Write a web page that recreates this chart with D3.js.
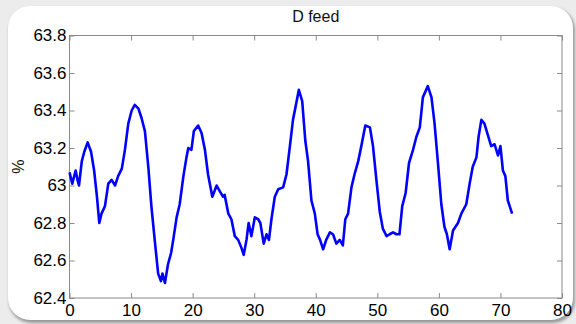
<!DOCTYPE html>
<html>
<head>
<meta charset="utf-8">
<script src="https://cdn.jsdelivr.net/npm/d3@7"></script>
<style>
  html, body { margin: 0; padding: 0; background: #ececec; }
  svg { display: block; }
</style>
</head>
<body>
<script>
/* D FEED */

// Chart data
const title = 'D feed';
const yLabel = '%';
const xTicks = [0, 10, 20, 30, 40, 50, 60, 70, 80];
const yTicks = [62.4, 62.6, 62.8, 63, 63.2, 63.4, 63.6, 63.8];

const time = [
  0.0, 0.45, 1.0, 1.3, 1.54, 2.0, 2.4, 2.95, 3.5, 4.0, 4.46, 4.84, 5.2, 5.76,
  6.3, 6.85, 7.4, 7.9, 8.5, 9.0, 9.55, 10.1, 10.6, 11.2, 11.7, 12.25, 12.8,
  13.3, 13.9, 14.4, 14.85, 15.1, 15.5, 16.0, 16.5, 16.85, 17.4, 17.9, 18.5,
  19.0, 19.3, 19.8, 20.2, 20.9, 21.45, 22.0, 22.5, 23.2, 23.9, 24.4, 24.95,
  25.2, 25.8, 26.3, 26.85, 27.4, 27.9, 28.3, 28.75, 29.1, 29.55, 30.1, 30.65,
  31.0, 31.55, 32.0, 32.4, 32.8, 33.35, 33.9, 34.7, 35.25, 35.8, 36.3, 36.9,
  37.25, 37.8, 38.3, 38.75, 39.3, 39.85, 40.3, 40.7, 41.2, 41.7, 42.3, 42.8,
  43.35, 43.9, 44.4, 44.8, 45.25, 45.8, 46.3, 46.9, 47.4, 48.05, 48.8, 49.3,
  49.85, 50.4, 50.9, 51.5, 52.0, 52.55, 53.1, 53.6, 54.05, 54.6, 55.15, 55.8,
  56.35, 56.9, 57.4, 58.2, 58.8, 59.3, 59.85, 60.4, 60.9, 61.3, 61.75, 62.3,
  63.1, 63.65, 64.45, 65.0, 65.5, 66.1, 66.45, 66.9, 67.4, 67.95, 68.5, 69.05,
  69.6, 70.0, 70.4, 70.8, 71.2, 71.5, 71.9
];

const feed = [
  63.07, 63.01, 63.08, 63.03, 63.0, 63.13, 63.18, 63.23, 63.18, 63.08, 62.94,
  62.8, 62.85, 62.89, 63.01, 63.03, 63.0, 63.05, 63.09, 63.19, 63.33, 63.4,
  63.43, 63.41, 63.36, 63.29, 63.1, 62.89, 62.69, 62.53, 62.49, 62.53, 62.48,
  62.58, 62.64, 62.71, 62.83, 62.9, 63.05, 63.15, 63.2, 63.19, 63.29, 63.32,
  63.28, 63.19, 63.06, 62.94, 63.0, 62.97, 62.94, 62.95, 62.85, 62.82, 62.73,
  62.71, 62.67, 62.63, 62.71, 62.8, 62.73, 62.83, 62.82, 62.8, 62.69, 62.74,
  62.71, 62.82, 62.94, 62.98, 62.99, 63.06, 63.21, 63.35, 63.45, 63.51, 63.45,
  63.24, 63.13, 62.92, 62.85, 62.74, 62.71, 62.66, 62.71, 62.75, 62.74, 62.69,
  62.71, 62.68, 62.82, 62.85, 62.99, 63.06, 63.13, 63.21, 63.32, 63.31, 63.21,
  63.03, 62.86, 62.77, 62.73, 62.74, 62.75, 62.74, 62.74, 62.89, 62.96, 63.12,
  63.19, 63.26, 63.31, 63.47, 63.53, 63.47, 63.33, 63.12, 62.9, 62.78, 62.74,
  62.66, 62.76, 62.8, 62.85, 62.9, 63.01, 63.1, 63.15, 63.26, 63.35, 63.33,
  63.27, 63.21, 63.22, 63.16, 63.21, 63.08, 63.05, 62.92, 62.89, 62.85
];

// Adding svg
const width = 576;
const height = 324;
const svg = d3
  .select('body')
  .append('svg')
  .attr('width', width)
  .attr('height', height);

// Card background with soft shadow
const defs = svg.append('defs');
defs
  .append('filter')
  .attr('id', 'shadow')
  .attr('x', '-5%')
  .attr('y', '-5%')
  .attr('width', '110%')
  .attr('height', '110%')
  .append('feGaussianBlur')
  .attr('stdDeviation', 1.5);

svg
  .append('rect')
  .attr('x', 9)
  .attr('y', 8)
  .attr('width', 566)
  .attr('height', 315)
  .attr('rx', 22)
  .attr('fill', '#9a9a9a')
  .attr('filter', 'url(#shadow)');

svg
  .append('rect')
  .attr('x', 8)
  .attr('y', 6)
  .attr('width', 565)
  .attr('height', 314)
  .attr('rx', 22)
  .attr('fill', '#ffffff');

// Plot area
const plot = { left: 69.5, right: 562, top: 35.5, bottom: 298 };

const x = d3.scaleLinear().domain([0, 80]).range([plot.left, plot.right]);
const y = d3.scaleLinear().domain([62.4, 63.8]).range([plot.bottom, plot.top]);

const axisColor = '#8a8a8a';
const fontFamily = '"Liberation Sans", Arial, sans-serif';

// Axes with inward ticks (bottom / left carry labels)
const xAxis = svg
  .append('g')
  .attr('transform', `translate(0,${plot.bottom})`)
  .call(
    d3.axisBottom(x).tickValues(xTicks).tickSizeInner(-5).tickSizeOuter(0).tickPadding(6)
  );

const yAxis = svg
  .append('g')
  .attr('transform', `translate(${plot.left},0)`)
  .call(
    d3
      .axisLeft(y)
      .tickValues(yTicks)
      .tickFormat((d) => String(d))
      .tickSizeInner(-5)
      .tickSizeOuter(0)
      .tickPadding(3)
  );

// Top / right ticks without labels
const xAxisTop = svg
  .append('g')
  .attr('transform', `translate(0,${plot.top})`)
  .call(d3.axisTop(x).tickValues(xTicks).tickSizeInner(-5).tickSizeOuter(0).tickFormat(''));

const yAxisRight = svg
  .append('g')
  .attr('transform', `translate(${plot.right},0)`)
  .call(d3.axisRight(y).tickValues(yTicks).tickSizeInner(-5).tickSizeOuter(0).tickFormat(''));

[xAxis, yAxis, xAxisTop, yAxisRight].forEach((g) => {
  g.select('.domain').remove();
  g.selectAll('line').attr('stroke', axisColor);
  g.selectAll('text')
    .attr('fill', '#000')
    .style('font-family', fontFamily)
    .style('font-size', '17px');
});

// Box round the plot
svg
  .append('rect')
  .attr('x', plot.left)
  .attr('y', plot.top)
  .attr('width', plot.right - plot.left)
  .attr('height', plot.bottom - plot.top)
  .attr('fill', 'none')
  .attr('stroke', axisColor)
  .attr('stroke-width', 1);

// Data line
const points = time.map((t, i) => [t, feed[i]]);
const line = d3
  .line()
  .x((d) => x(d[0]))
  .y((d) => y(d[1]));

svg
  .append('path')
  .datum(points)
  .attr('d', line)
  .attr('fill', 'none')
  .attr('stroke', '#0000ff')
  .attr('stroke-width', 2.6)
  .attr('stroke-linejoin', 'round');

// Title and y label
svg
  .append('text')
  .attr('x', (plot.left + plot.right) / 2)
  .attr('y', 22)
  .attr('text-anchor', 'middle')
  .style('font-family', fontFamily)
  .style('font-size', '16px')
  .attr('fill', '#111')
  .text(title);

svg
  .append('text')
  .attr('transform', `translate(24,${(plot.top + plot.bottom) / 2}) rotate(-90)`)
  .attr('text-anchor', 'middle')
  .style('font-family', fontFamily)
  .style('font-size', '16px')
  .attr('fill', '#111')
  .text(yLabel);
</script>
</body>
</html>
